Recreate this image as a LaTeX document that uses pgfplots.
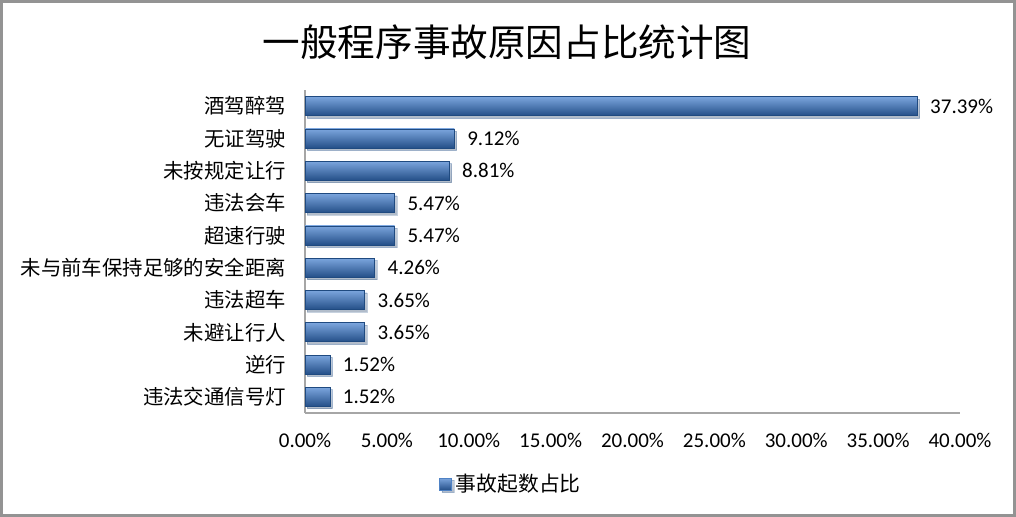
\documentclass[border=0pt]{standalone}
\usepackage{fontspec}
\setmainfont{Carlito}
\newfontfamily\cjk{Noto Sans CJK SC}
\usepackage{pgfplots}
\pgfplotsset{compat=1.18}
\usetikzlibrary{shadows}
\definecolor{bartop}{HTML}{7BA5DD}
\definecolor{barmid}{HTML}{4F82C5}
\definecolor{barbot}{HTML}{244F88}
\definecolor{baredge}{HTML}{1F4A80}
\begin{document}
\begin{tikzpicture}
\draw[gray!85, line width=1.5pt] (0.75pt,0.75pt) rectangle (507.25pt,257.75pt);
\node[font=\cjk\fontsize{18.8}{22}\selectfont] at (253.5pt,237.5pt) {一般程序事故原因占比统计图};
\begin{axis}[
  at={(152.5pt,52pt)}, anchor=south west,
  scale only axis, width=327.5pt, height=161.5pt,
  xbar, bar width=9.5pt, bar shift=0pt,
  xmin=0, xmax=40, ymin=-0.5, ymax=9.5,
  axis x line*=bottom, axis y line*=left,
  axis line style={gray!70, line width=0.6pt, -},
  major tick length=0pt,
  xtick={0,5,...,40},
  xticklabel={\pgfmathprintnumber[fixed,fixed zerofill,precision=2]{\tick}\%},
  /pgf/number format/assume math mode=true,
  xticklabel style={font=\fontsize{10.5}{12}\selectfont, yshift=-6.5pt},
  ytick={0,...,9},
  yticklabels={违法交通信号灯,逆行,未避让行人,违法超车,未与前车保持足够的安全距离,超速行驶,违法会车,未按规定让行,无证驾驶,酒驾醉驾},
  yticklabel style={font=\cjk\fontsize{10.2}{12}\selectfont, xshift=-6pt},
  point meta=x,
  nodes near coords={\pgfmathprintnumber[fixed,fixed zerofill,precision=2]{\pgfplotspointmeta}\%},
  nodes near coords style={font=\fontsize{10.5}{12}\selectfont, anchor=west, xshift=3pt, black},
  legend style={at={(0.316,-0.22)}, anchor=center, draw=none, fill=none, font=\cjk\fontsize{10.4}{12}\selectfont, inner sep=0pt},
  legend image code/.code={\fill[barmid] (0pt,-3pt) rectangle (6pt,3pt);},
  mybar/.style={draw=baredge, line width=0.3pt, top color=bartop, middle color=barmid, bottom color=barbot,
    drop shadow={shadow xshift=1.2pt, shadow yshift=-1.2pt, opacity=0.25}},
]
\addplot[mybar] coordinates {(37.39,9)};
\addlegendentry{事故起数占比}
\addplot[mybar, forget plot] coordinates {(9.12,8)};
\addplot[mybar, forget plot] coordinates {(8.81,7)};
\addplot[mybar, forget plot] coordinates {(5.47,6)};
\addplot[mybar, forget plot] coordinates {(5.47,5)};
\addplot[mybar, forget plot] coordinates {(4.26,4)};
\addplot[mybar, forget plot] coordinates {(3.65,3)};
\addplot[mybar, forget plot] coordinates {(3.65,2)};
\addplot[mybar, forget plot] coordinates {(1.52,1)};
\addplot[mybar, forget plot] coordinates {(1.52,0)};
\end{axis}
\end{tikzpicture}
\end{document}
